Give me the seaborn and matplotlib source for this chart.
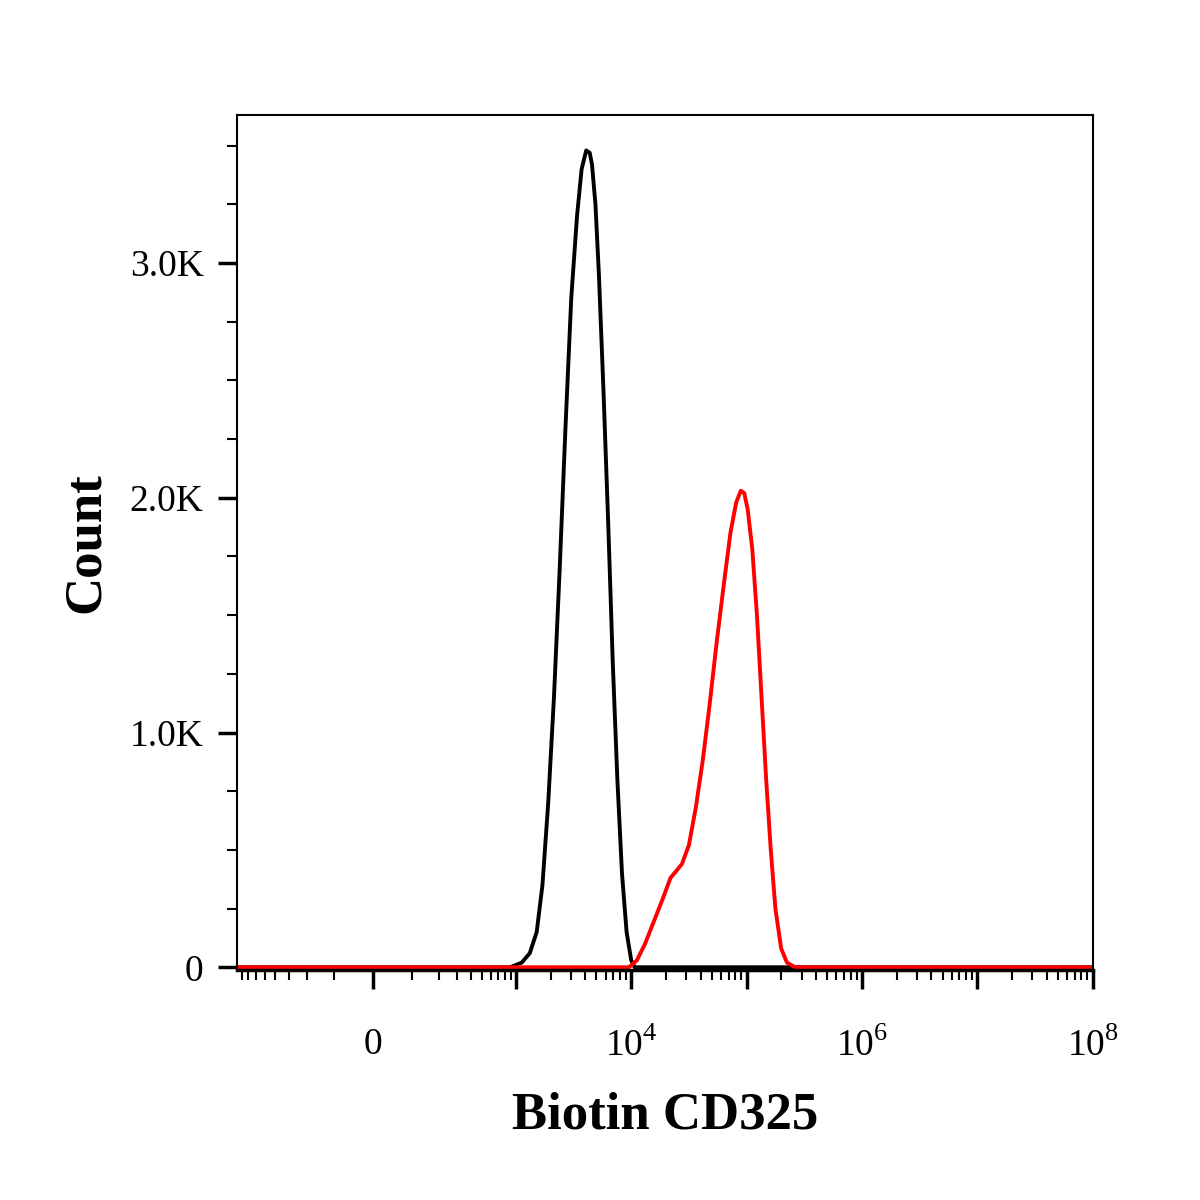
import matplotlib
matplotlib.use("Agg")
import matplotlib.pyplot as plt
import numpy as np
import pandas as pd
import seaborn as sns
from matplotlib.ticker import FixedLocator, FuncFormatter

sns.set_style("white")
plt.rcParams["font.family"] = ["Liberation Serif", "DejaVu Serif"]
plt.rcParams["text.color"] = "black"
plt.rcParams["axes.labelcolor"] = "black"
plt.rcParams["xtick.color"] = "black"
plt.rcParams["ytick.color"] = "black"
plt.rcParams["mathtext.fontset"] = "custom"
plt.rcParams["mathtext.rm"] = "Liberation Serif"

# intensities as log10 values, counts in thousands
iso_log = [2.95, 3.05, 3.12, 3.18, 3.23, 3.28, 3.33, 3.38, 3.43, 3.48, 3.53, 3.57,
           3.61, 3.64, 3.66, 3.69, 3.72, 3.76, 3.8, 3.84, 3.88, 3.92, 3.96, 4.0, 4.03]
iso_count = [0.0, 0.02, 0.06, 0.15, 0.35, 0.7, 1.15, 1.7, 2.3, 2.85, 3.2, 3.4,
             3.48, 3.47, 3.42, 3.25, 2.95, 2.45, 1.9, 1.3, 0.8, 0.4, 0.15, 0.03, 0.0]
cd325_log = [3.98, 4.05, 4.12, 4.2, 4.28, 4.34, 4.39, 4.44, 4.5, 4.56, 4.62, 4.68, 4.74,
             4.8, 4.86, 4.91, 4.95, 4.98, 5.01, 5.05, 5.09, 5.13, 5.17, 5.21, 5.25, 5.3, 5.35, 5.42]
cd325_count = [0.0, 0.03, 0.1, 0.2, 0.3, 0.38, 0.41, 0.44, 0.52, 0.68, 0.88, 1.12, 1.38,
               1.62, 1.85, 1.98, 2.03, 2.02, 1.95, 1.78, 1.5, 1.15, 0.8, 0.5, 0.25, 0.08, 0.02, 0.0]
x_min, x_max = -876, 1e8
W = 116.0


def fwd(x):
    return np.arcsinh(np.asarray(x) / W)


def inv(y):
    return W * np.sinh(y)


def series(logs, counts, name):
    x = [x_min] + [10 ** v for v in logs] + [x_max]
    y = [0.0] + counts + [0.0]
    return pd.DataFrame({"x": x, "y": y, "s": name})


df = pd.concat([series(iso_log, iso_count, "iso"), series(cd325_log, cd325_count, "cd325")])

fig = plt.figure(figsize=(12, 12), dpi=100)
ax = fig.add_axes([0.1975, 0.192, 0.713, 0.712])
sns.lineplot(data=df, x="x", y="y", hue="s", palette={"iso": "black", "cd325": "red"},
             linewidth=2.8, legend=False, ax=ax, sort=False,
             solid_joinstyle="round", solid_capstyle="round")
ax.set_xscale("function", functions=(fwd, inv))
ax.set_xlim(x_min, x_max)
ax.set_ylim(-0.01, 3.63)

# x ticks
major = [0, 1e4, 1e6, 1e8]
mid = [1e3, 1e5, 1e7]
minor = list(np.arange(-800, 1000, 100))
for d in range(3, 8):
    minor += [k * 10 ** d for k in range(2, 10)]
ax.xaxis.set_major_locator(FixedLocator(major + mid))
ax.xaxis.set_minor_locator(FixedLocator(minor))
labels = {0: "0", 1e4: "10$^4$", 1e6: "10$^6$", 1e8: "10$^8$"}
ax.xaxis.set_major_formatter(FuncFormatter(lambda v, p: labels.get(v, "")))
ax.yaxis.set_major_locator(FixedLocator([0, 1, 2, 3]))
ax.yaxis.set_minor_locator(FixedLocator(list(np.arange(0.25, 3.6, 0.25))))
ax.yaxis.set_major_formatter(FuncFormatter(lambda v, p: "0" if v == 0 else f"{v:.1f}K"))
ax.tick_params(axis="both", which="major", direction="out", length=14, width=2.5,
               labelsize=27, bottom=True, left=True, pad=10)
ax.tick_params(axis="both", which="minor", direction="out", length=7, width=1.5,
               bottom=True, left=True)
ax.tick_params(axis="x", which="major", pad=28)

for sp in ax.spines.values():
    sp.set_linewidth(1.5)
    sp.set_color("black")
ax.spines["bottom"].set_linewidth(2.5)

ax.set_xlabel("Biotin CD325", fontsize=38, fontweight="bold", labelpad=20)
ax.set_ylabel("Count", fontsize=38, fontweight="bold", labelpad=14)

fig.savefig("out.png", dpi=100)
